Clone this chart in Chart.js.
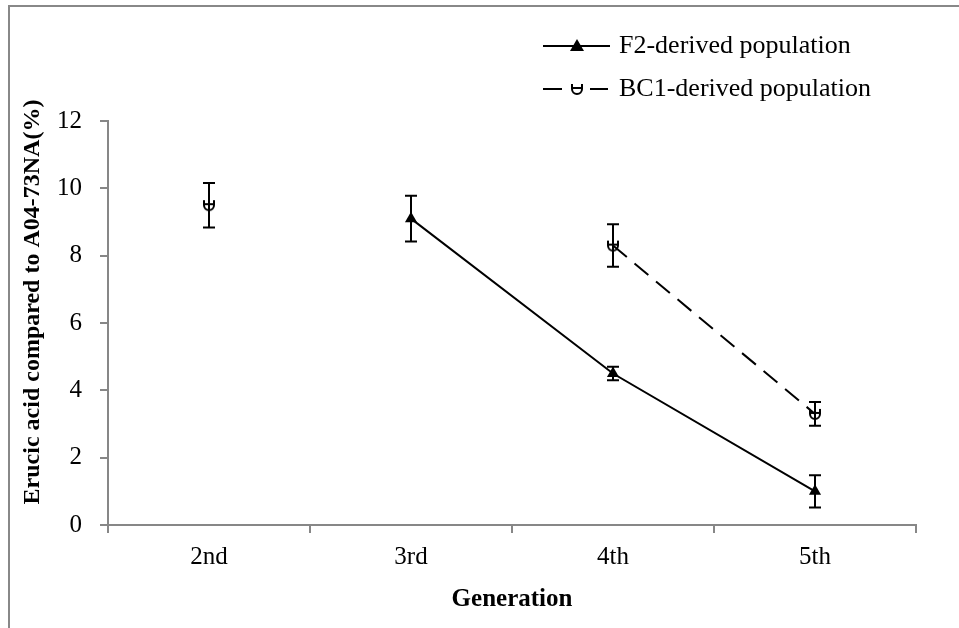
<!DOCTYPE html>
<html>
<head>
<meta charset="utf-8">
<script src="https://cdn.jsdelivr.net/npm/chart.js@4"></script>
<style>
html,body{margin:0;padding:0;background:#fff;}
#wrap{position:relative;width:959px;height:628px;}
</style>
</head>
<body>
<div id="wrap"><canvas id="c" width="959" height="628"></canvas></div>
<script>
const categories = ['2nd', '3rd', '4th', '5th'];
const f2Label = 'F2-derived population';
const bc1Label = 'BC1-derived population';
const f2Values = [null, 9.1, 4.5, 1.0];
const f2Errors = [null, 0.68, 0.2, 0.48];
const bc1Values = [9.5, null, 8.3, 3.3];
const bc1Errors = [0.66, null, 0.63, 0.35];
const yTicks = [0, 2, 4, 6, 8, 10, 12];
const xTitle = 'Generation';
const yTitle = 'Erucic acid compared to A04-73NA(%)';

const FONT = '"Liberation Serif", "Times New Roman", serif';
const AXIS = '#878787';

function drawCup(ctx, cx, cy) {
  ctx.save();
  ctx.strokeStyle = '#000';
  ctx.lineWidth = 2;
  ctx.beginPath();
  ctx.moveTo(cx - 5, cy - 5);
  ctx.lineTo(cx - 5, cy);
  ctx.arc(cx, cy, 5, Math.PI, 0, true);
  ctx.lineTo(cx + 5, cy - 5);
  ctx.stroke();
  ctx.beginPath();
  ctx.moveTo(cx - 5, cy - 1);
  ctx.lineTo(cx + 5, cy - 1);
  ctx.stroke();
  ctx.restore();
}
const cup = document.createElement('canvas');
cup.width = 16; cup.height = 16;
drawCup(cup.getContext('2d'), 8, 8);

function drawTri(ctx, cx, cy) {
  ctx.save();
  ctx.fillStyle = '#000';
  ctx.beginPath();
  ctx.moveTo(cx, cy - 7);
  ctx.lineTo(cx + 7, cy + 5);
  ctx.lineTo(cx - 7, cy + 5);
  ctx.closePath();
  ctx.fill();
  ctx.restore();
}

const decor = {
  id: 'decor',
  beforeDraw(chart) {
    const ctx = chart.ctx;
    ctx.save();
    ctx.strokeStyle = '#888';
    ctx.lineWidth = 2;
    ctx.beginPath();
    ctx.moveTo(9, 628);
    ctx.lineTo(9, 6);
    ctx.lineTo(959, 6);
    ctx.stroke();
    ctx.restore();
  },
  afterDatasetsDraw(chart) {
    const ctx = chart.ctx;
    const ys = chart.scales.y;
    chart.data.datasets.forEach((ds, i) => {
      const meta = chart.getDatasetMeta(i);
      ds.data.forEach((v, j) => {
        const e = ds.errors[j];
        if (v === null || e === null) return;
        const x = meta.data[j].x;
        const yt = ys.getPixelForValue(v + e);
        const yb = ys.getPixelForValue(v - e);
        ctx.save();
        ctx.strokeStyle = '#000';
        ctx.lineWidth = 2;
        ctx.beginPath();
        ctx.moveTo(x, yt); ctx.lineTo(x, yb);
        ctx.moveTo(x - 6, yt); ctx.lineTo(x + 6, yt);
        ctx.moveTo(x - 6, yb); ctx.lineTo(x + 6, yb);
        ctx.stroke();
        ctx.restore();
      });
    });
  },
  afterDraw(chart) {
    const ctx = chart.ctx;
    const ds = chart.data.datasets;
    const ys = chart.scales.y;
    ctx.save();
    ctx.strokeStyle = '#000';
    ctx.lineWidth = 2;
    // F2 legend
    let y = 46;
    ctx.beginPath(); ctx.moveTo(543, y); ctx.lineTo(610, y); ctx.stroke();
    drawTri(ctx, 577, y);
    // BC1 legend
    y = 89;
    ctx.beginPath();
    ctx.moveTo(543, y); ctx.lineTo(562, y);
    ctx.moveTo(590, y); ctx.lineTo(608, y);
    ctx.stroke();
    drawCup(ctx, 577, y);
    ctx.fillStyle = '#000';
    ctx.font = '26px ' + FONT;
    ctx.textBaseline = 'middle';
    ctx.textAlign = 'left';
    ctx.fillText(ds[0].label, 619, 46);
    ctx.fillText(ds[1].label, 619, 89);
    // y axis title
    ctx.translate(33, (ys.top + ys.bottom) / 2 - 21);
    ctx.rotate(-Math.PI / 2);
    ctx.font = 'bold 24px ' + FONT;
    ctx.textAlign = 'center';
    ctx.fillText(yTitle, 0, 0);
    ctx.restore();
  }
};

new Chart(document.getElementById('c'), {
  type: 'line',
  data: {
    labels: categories,
    datasets: [
      {
        label: f2Label,
        data: f2Values,
        errors: f2Errors,
        borderColor: '#000',
        backgroundColor: '#000',
        borderWidth: 2,
        pointStyle: 'triangle',
        pointRadius: 7,
        pointBorderWidth: 0,
        spanGaps: false
      },
      {
        label: bc1Label,
        data: bc1Values,
        errors: bc1Errors,
        borderColor: '#000',
        backgroundColor: '#000',
        borderWidth: 2,
        borderDash: [18, 10],
        pointStyle: cup,
        pointRadius: 7,
        spanGaps: false
      }
    ]
  },
  options: {
    responsive: false,
    animation: false,
    layout: { padding: { top: 121, right: 43, left: 0, bottom: 0 } },
    plugins: { legend: { display: false }, tooltip: { enabled: false } },
    scales: {
      x: {
        type: 'category',
        offset: true,
        grid: { offset: true, drawOnChartArea: false, tickLength: 8, color: AXIS, lineWidth: 2 },
        border: { color: AXIS, width: 2 },
        ticks: { color: '#000', font: { family: FONT, size: 25 }, padding: 9 },
        title: { display: true, text: xTitle, color: '#000', font: { family: FONT, size: 25, weight: 'bold' }, padding: { top: 0, bottom: 13 } },
        afterFit(s) { s.height = 103; }
      },
      y: {
        min: 0, max: 12,
        afterBuildTicks(s) { s.ticks = yTicks.map(v => ({ value: v })); },
        grid: { drawOnChartArea: false, tickLength: 8, color: AXIS, lineWidth: 2 },
        border: { color: AXIS, width: 2 },
        ticks: { color: '#000', font: { family: FONT, size: 25 }, padding: 18 },
        title: { display: false },
        afterFit(s) { s.width = 108; }
      }
    }
  },
  plugins: [decor]
});
</script>
</body>
</html>
